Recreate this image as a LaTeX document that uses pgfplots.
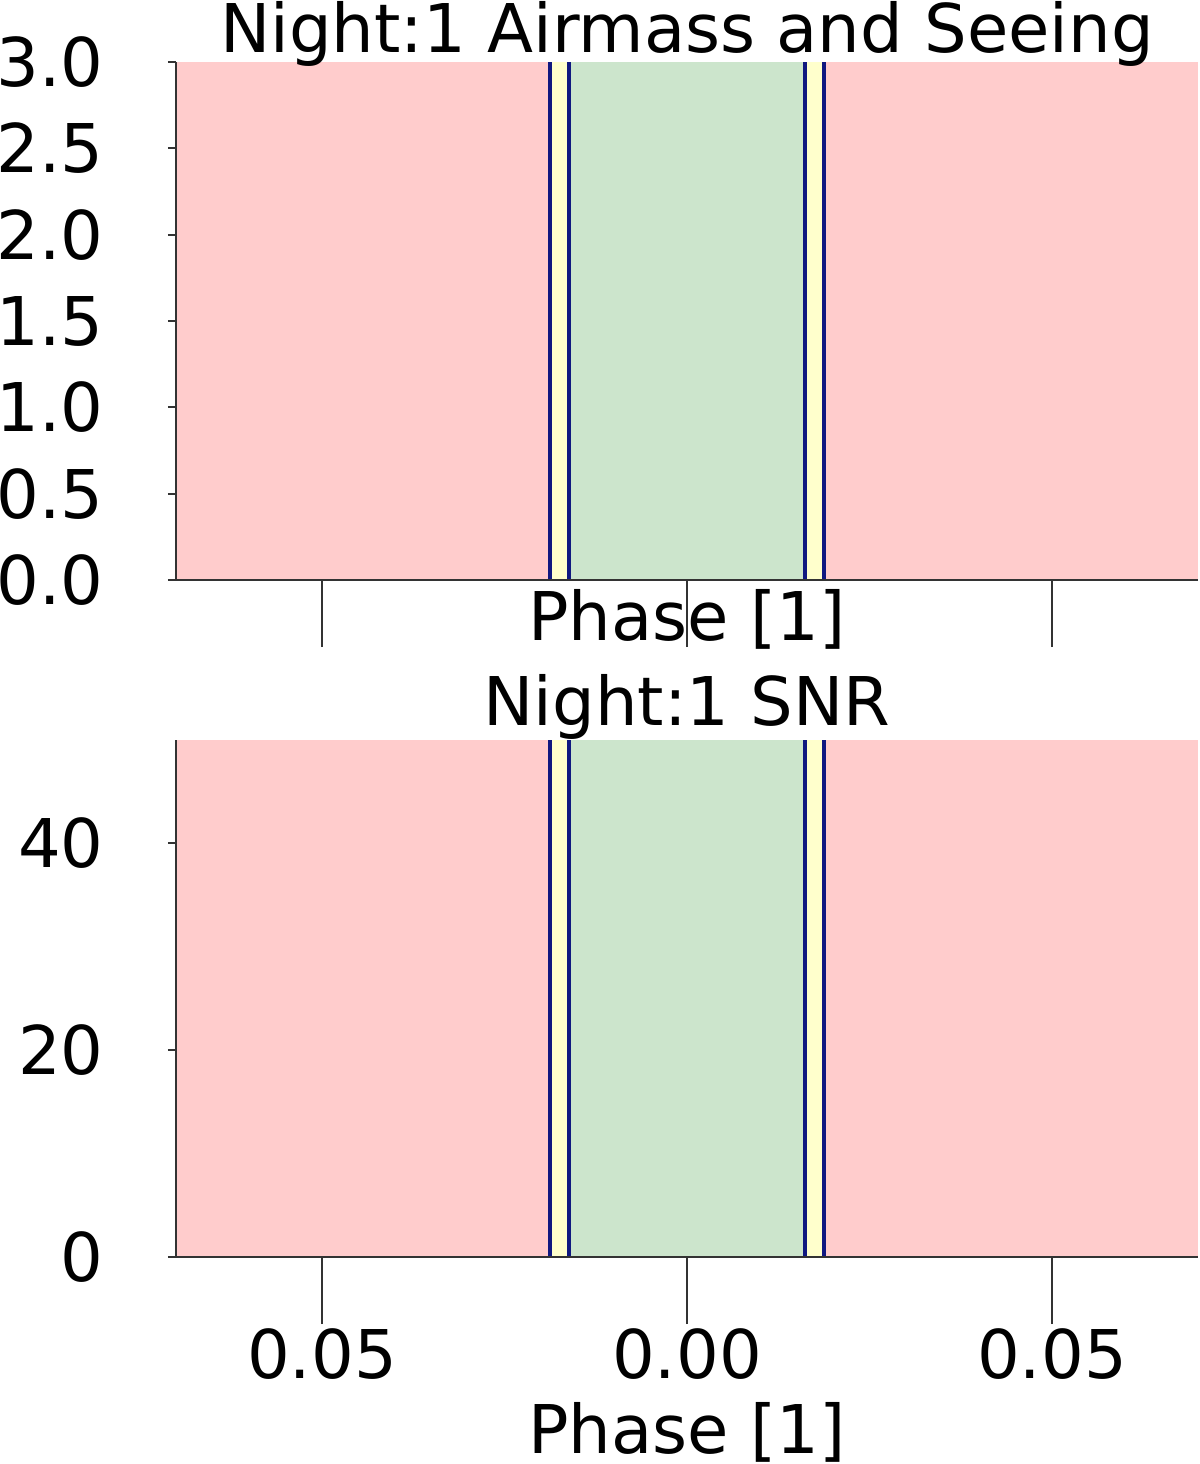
\documentclass[border=0pt]{standalone}
\usepackage{pgfplots}
\pgfplotsset{compat=1.18}
\usepackage{fontspec}
\setmainfont{DejaVu Sans}
\definecolor{pinkc}{RGB}{255,204,204}
\definecolor{yelc}{RGB}{255,255,204}
\definecolor{grnc}{RGB}{204,229,204}
\definecolor{navyc}{RGB}{16,24,128}
\newcommand\bands[1]{%
 \addplot[fill=pinkc, draw=none] coordinates {(-0.07,0) (-0.07,#1) (-0.0188,#1) (-0.0188,0)} -- cycle;
 \addplot[fill=yelc, draw=none] coordinates {(-0.0188,0) (-0.0188,#1) (-0.0162,#1) (-0.0162,0)} -- cycle;
 \addplot[fill=grnc, draw=none] coordinates {(-0.0162,0) (-0.0162,#1) (0.0162,#1) (0.0162,0)} -- cycle;
 \addplot[fill=yelc, draw=none] coordinates {(0.0162,0) (0.0162,#1) (0.0188,#1) (0.0188,0)} -- cycle;
 \addplot[fill=pinkc, draw=none] coordinates {(0.0188,0) (0.0188,#1) (0.07,#1) (0.07,0)} -- cycle;
 \addplot[navyc, line width=2pt] coordinates {(-0.0188,0) (-0.0188,#1)};
 \addplot[navyc, line width=2pt] coordinates {(-0.0162,0) (-0.0162,#1)};
 \addplot[navyc, line width=2pt] coordinates {(0.0162,0) (0.0162,#1)};
 \addplot[navyc, line width=2pt] coordinates {(0.0188,0) (0.0188,#1)};
}
\pgfplotsset{myax/.style={
  width=511pt, scale only axis,
  xmin=-0.07, xmax=0.07, ymin=0,
  enlargelimits=false,
  scaled x ticks=false, scaled y ticks=false,
  axis x line*=bottom, axis y line*=left,
  axis line style={black!80, line width=1pt},
  axis on top,
  tick align=outside,
  major tick length=4pt,
  xtick={-0.05,0,0.05},
  xtick style={black!80, line width=1pt, /pgfplots/major tick length=33.5pt},
  ytick style={black!80, line width=1pt},
  yticklabel style={anchor=east, xshift=-20.8pt},
  xticklabel style={anchor=north, yshift=-20.5pt},
  xlabel={Phase [1]},
  xlabel style={at={(axis description cs:0.5,0)}, anchor=base},
  title style={at={(axis description cs:0.5,1)}, anchor=base},
}}
\begin{document}
\fontsize{33.6}{40}\selectfont
\begin{tikzpicture}
\useasboundingbox (-88pt,-442pt) rectangle (512pt,290pt);
\begin{axis}[myax, at={(0,0)}, anchor=south west, height=259pt, ymax=3,
  ytick={0,0.5,1,1.5,2,2.5,3},
  yticklabels={0.0,0.5,1.0,1.5,2.0,2.5,3.0},
  xticklabels={},
  xlabel style={yshift=-30pt},
  title style={yshift=-1pt},
  title={Night:1 Airmass and Seeing}]
\bands{3}
\end{axis}
\begin{axis}[myax, at={(0,-338.5pt)}, anchor=south west, height=258.5pt, ymax=50,
  ytick={0,20,40},
  yticklabels={0,20,40},
  xticklabels={0.05,0.00,0.05},
  xlabel style={yshift=-98pt},
  title style={yshift=1.5pt},
  title={Night:1 SNR}]
\bands{50}
\end{axis}
\end{tikzpicture}
\end{document}
